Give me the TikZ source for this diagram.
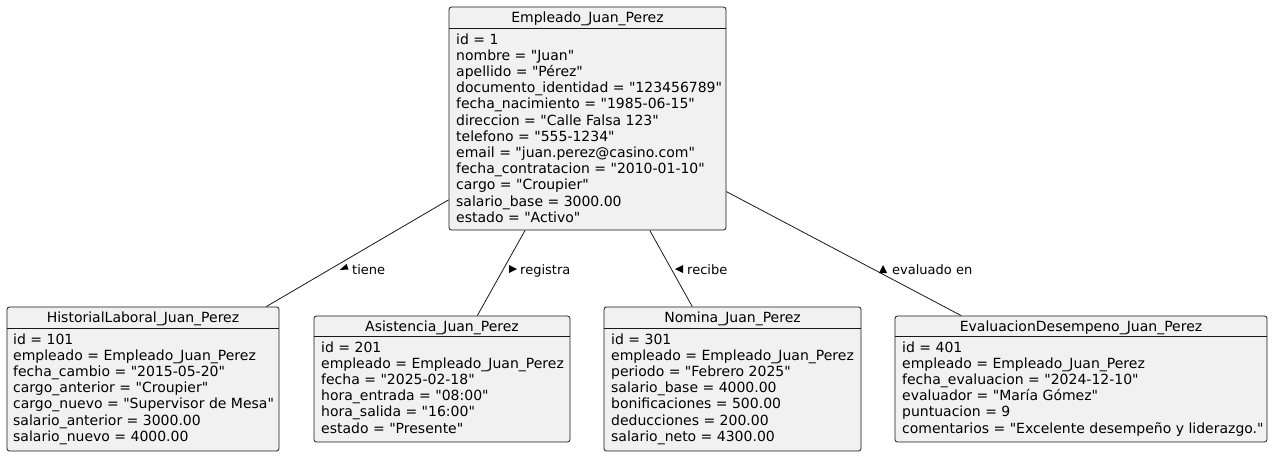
\documentclass[tikz,border=0pt]{standalone}
\usepackage{fontspec}
\newfontfamily\umlfont{DejaVu Sans}
\definecolor{objfill}{HTML}{F1F1F1}
\definecolor{objline}{HTML}{181818}
\tikzset{
  objbox/.style={draw=objline,fill=objfill,rounded corners=2.5pt,inner sep=0pt,line width=0.8pt},
  objtxt/.style={inner sep=0pt,font=\umlfont\fontsize{14}{16.2}\selectfont},
  rellbl/.style={inner sep=0pt,anchor=base west,font=\umlfont\fontsize{13}{15}\selectfont},
  rel/.style={objline,line width=0.8pt}
}
\begin{document}
\begin{tikzpicture}[x=1pt,y=-1pt]
    \useasboundingbox (0,0) rectangle (1275,456);
    % Empleado
    \node[objbox,minimum width=277pt,minimum height=223pt] (emp) at (587.5,118.5) {};
    \node[objtxt,anchor=base] (empT) at (587.5,22) {Empleado\_Juan\_Perez};
    \draw[rel] (449,28)--(726,28);
    \foreach \t [count=\i] in {id = 1,nombre = "Juan",apellido = "Pérez",documento\_identidad = "123456789",fecha\_nacimiento = "1985-06-15",direccion = "Calle Falsa 123",telefono = "555-1234",email = "juan.perez@casino.com",fecha\_contratacion = "2010-01-10",cargo = "Croupier",salario\_base = 3000.00,estado = "Activo"}
    \node[objtxt,anchor=base west] (emp\i) at (456,27.8+16.2*\i) {\t};
    % Historial
    \node[objbox,minimum width=272pt,minimum height=144pt] (hist) at (143,379) {};
    \node[objtxt,anchor=base] (histT) at (143,322) {HistorialLaboral\_Juan\_Perez};
    \draw[rel] (7,328)--(279,328);
    \foreach \t [count=\i] in {id = 101,empleado = Empleado\_Juan\_Perez,fecha\_cambio = "2015-05-20",cargo\_anterior = "Croupier",cargo\_nuevo = "Supervisor de Mesa",salario\_anterior = 3000.00,salario\_nuevo = 4000.00}
    \node[objtxt,anchor=base west] (hist\i) at (13,327.8+16.2*\i) {\t};
    % Asistencia
    \node[objbox,minimum width=256pt,minimum height=126pt] (asis) at (442,379) {};
    \node[objtxt,anchor=base] (asisT) at (442,331) {Asistencia\_Juan\_Perez};
    \draw[rel] (314,336)--(570,336);
    \foreach \t [count=\i] in {id = 201,empleado = Empleado\_Juan\_Perez,fecha = "2025-02-18",hora\_entrada = "08:00",hora\_salida = "16:00",estado = "Presente"}
    \node[objtxt,anchor=base west] (asis\i) at (321,335.8+16.2*\i) {\t};
    % Nomina
    \node[objbox,minimum width=257pt,minimum height=144pt] (nom) at (732.5,379) {};
    \node[objtxt,anchor=base] (nomT) at (732.5,322) {Nomina\_Juan\_Perez};
    \draw[rel] (604,328)--(861,328);
    \foreach \t [count=\i] in {id = 301,empleado = Empleado\_Juan\_Perez,periodo = "Febrero 2025",salario\_base = 4000.00,bonificaciones = 500.00,deducciones = 200.00,salario\_neto = 4300.00}
    \node[objtxt,anchor=base west] (nom\i) at (611,327.8+16.2*\i) {\t};
    % Evaluacion
    \node[objbox,minimum width=372pt,minimum height=126pt] (eval) at (1081,379) {};
    \node[objtxt,anchor=base] (evalT) at (1081,331) {EvaluacionDesempeno\_Juan\_Perez};
    \draw[rel] (895,336)--(1267,336);
    \foreach \t [count=\i] in {id = 401,empleado = Empleado\_Juan\_Perez,fecha\_evaluacion = "2024-12-10",evaluador = "María Gómez",puntuacion = 9,comentarios = "Excelente desempeño y liderazgo."}
    \node[objtxt,anchor=base west] (eval\i) at (902,335.8+16.2*\i) {\t};
    % relaciones
    \draw[rel] (emp)--(hist);
    \draw[rel] (emp)--(asis);
    \draw[rel] (emp)--(nom);
    \draw[rel] (emp)--(eval);
    \fill (346.5,264)--(339.5,270)--(348.5,269.5)--cycle;
    \node[rellbl] (l1) at (352,274) {tiene};
    \fill (517,269)--(509,265)--(509,273)--cycle;
    \node[rellbl] (l2) at (520,274) {registra};
    \fill (675,269)--(683,265)--(683,273)--cycle;
    \node[rellbl] (l3) at (687,274) {recibe};
    \fill (883,265)--(879,273)--(887,273)--cycle;
    \node[rellbl] (l4) at (892,274) {evaluado en};
\end{tikzpicture}
\end{document}
